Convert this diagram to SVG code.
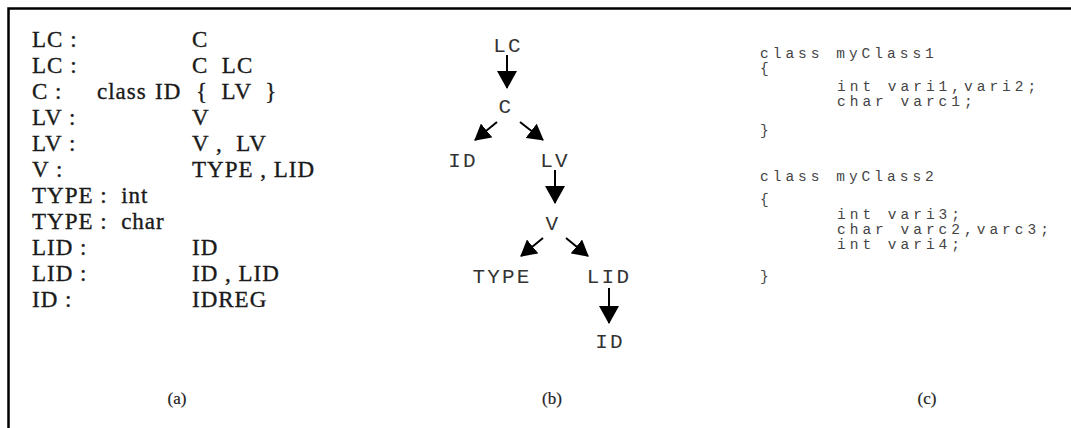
<svg xmlns="http://www.w3.org/2000/svg" width="1071" height="428" viewBox="0 0 1071 428">
<style>
.g{font-family:"Liberation Serif",serif;font-size:23px;fill:#1a1a1a;stroke:#1a1a1a;stroke-width:0.35;letter-spacing:1px;white-space:pre}
.t{font-family:"Liberation Mono",monospace;font-size:21px;fill:#333;letter-spacing:2.2px;text-anchor:middle}
.c{font-family:"Liberation Mono",monospace;font-size:14.5px;fill:#444;letter-spacing:4px;white-space:pre}
.cap{font-family:"Liberation Serif",serif;font-size:17px;fill:#222;stroke:#222;stroke-width:0.2;text-anchor:middle}
.e{stroke:#000;stroke-width:2;fill:none}
</style>
<defs>
<marker id="ah" markerWidth="18" markerHeight="20" refX="17" refY="10" orient="auto" markerUnits="userSpaceOnUse">
<path d="M0,0 L18,10 L0,20 z" fill="#000"/>
</marker>
<marker id="ahs" markerWidth="16" markerHeight="18" refX="15" refY="9" orient="auto" markerUnits="userSpaceOnUse">
<path d="M0,0 L16,9 L0,18 z" fill="#000"/>
</marker>
</defs>
<rect width="1071" height="428" fill="#fff"/>
<path d="M8.5,428 V8.5 H1071" stroke="#000" stroke-width="2.5" fill="none"/>

<g id="grammar">
<text class="g" x="32" y="47">LC :</text><text class="g" x="192" y="47">C</text>
<text class="g" x="32" y="73">LC :</text><text class="g" x="192" y="73">C  LC</text>
<text class="g" x="32" y="99">C :</text><text class="g" x="97" y="99">class<tspan x="155">ID</tspan></text><text class="g" x="196" y="99">{  LV  }</text>
<text class="g" x="32" y="125">LV :</text><text class="g" x="192" y="125">V</text>
<text class="g" x="32" y="151">LV :</text><text class="g" x="192" y="151">V ,  LV</text>
<text class="g" x="32" y="177">V :</text><text class="g" x="192" y="177">TYPE , LID</text>
<text class="g" x="32" y="203">TYPE :  int</text>
<text class="g" x="32" y="229">TYPE :  char</text>
<text class="g" x="32" y="255">LID :</text><text class="g" x="192" y="255">ID</text>
<text class="g" x="32" y="281">LID :</text><text class="g" x="192" y="281">ID , LID</text>
<text class="g" x="32" y="307">ID :</text><text class="g" x="192" y="307">IDREG</text>
<text class="cap" x="177" y="404">(a)</text>
</g>

<g id="connectors">
<line class="e" x1="507" y1="55" x2="507" y2="88" marker-end="url(#ah)"/>
<line class="e" x1="497" y1="122" x2="475" y2="140" marker-end="url(#ahs)"/>
<line class="e" x1="520" y1="122" x2="543" y2="140" marker-end="url(#ahs)"/>
<line class="e" x1="555" y1="170" x2="555" y2="203" marker-end="url(#ah)"/>
<line class="e" x1="543" y1="238" x2="521" y2="256" marker-end="url(#ahs)"/>
<line class="e" x1="566" y1="238" x2="588" y2="256" marker-end="url(#ahs)"/>
<line class="e" x1="609" y1="288" x2="609" y2="323" marker-end="url(#ah)"/>
</g>

<g id="n-LC"><text class="t" x="508" y="52">LC</text></g>
<g id="n-C"><text class="t" x="506" y="113">C</text></g>
<g id="n-ID1"><text class="t" x="463" y="167">ID</text></g>
<g id="n-LV"><text class="t" x="555" y="167">LV</text></g>
<g id="n-V"><text class="t" x="553" y="230">V</text></g>
<g id="n-TYPE"><text class="t" x="502" y="283">TYPE</text></g>
<g id="n-LID"><text class="t" x="609" y="283">LID</text></g>
<g id="n-ID2"><text class="t" x="610" y="348">ID</text></g>
<g id="cap-b"><text class="cap" x="552" y="404">(b)</text></g>

<g id="code">
<text class="c" x="760" y="58">class myClass1</text>
<text class="c" x="760" y="73">{</text>
<text class="c" x="837" y="91">int vari1,vari2;</text>
<text class="c" x="837" y="106">char varc1;</text>
<text class="c" x="760" y="135">}</text>
<text class="c" x="760" y="181">class myClass2</text>
<text class="c" x="760" y="204">{</text>
<text class="c" x="837" y="219">int vari3;</text>
<text class="c" x="837" y="234">char varc2,varc3;</text>
<text class="c" x="837" y="249">int vari4;</text>
<text class="c" x="760" y="281">}</text>
<text class="cap" x="927" y="404">(c)</text>
</g>
</svg>
